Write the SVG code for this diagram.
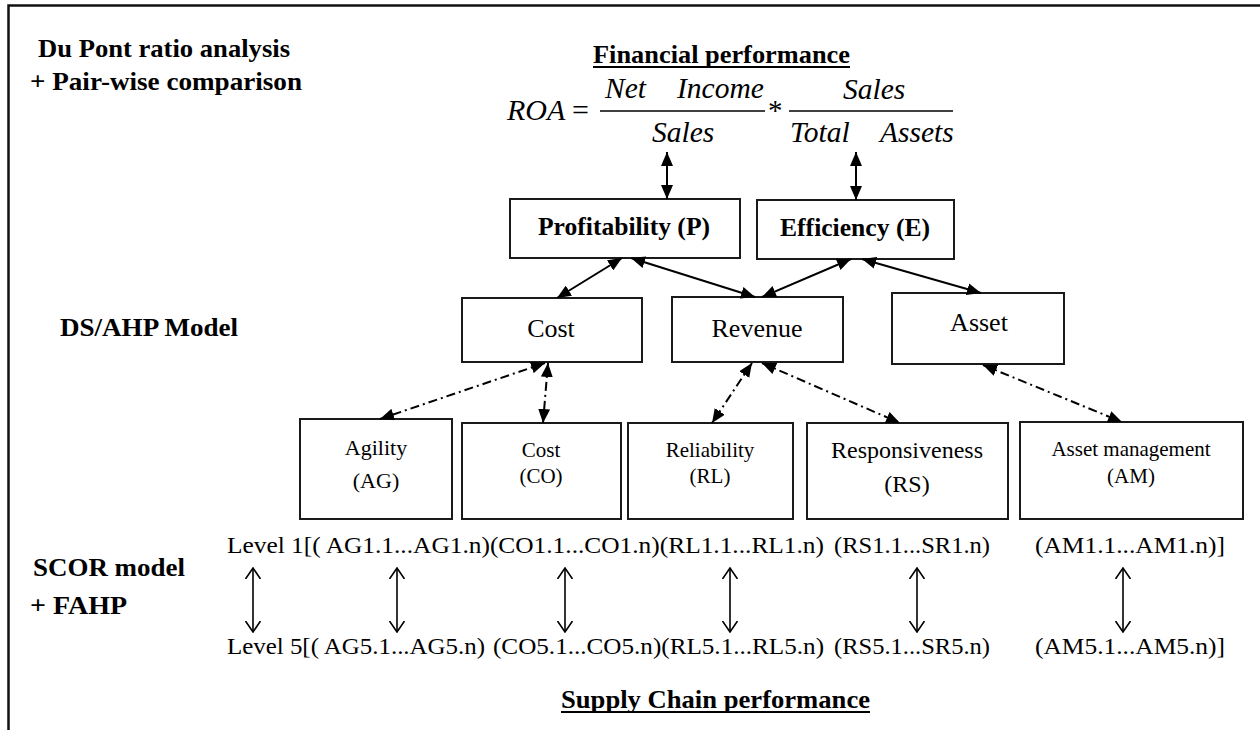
<svg xmlns="http://www.w3.org/2000/svg" width="1260" height="730" viewBox="0 0 1260 730">
  <style>
    .serif { font-family: "Liberation Serif", "Times New Roman", serif; fill: #000; }
    .bold { font-weight: bold; }
    .ital { font-style: italic; }
    .box { fill: #fff; stroke: #1a1a1a; stroke-width: 2; }
    .solid { fill: none; stroke: #000; stroke-width: 2; marker-start: url(#tri); marker-end: url(#tri); }
    .dashdot { fill: none; stroke: #000; stroke-width: 2; stroke-dasharray: 9 4 2 4; marker-start: url(#tri); marker-end: url(#tri); }
    .thin { fill: none; stroke: #000; stroke-width: 1.6; marker-start: url(#open); marker-end: url(#open); }
    .rule { stroke: #000; stroke-width: 1.5; }
    .ul { stroke: #000; stroke-width: 2; }
  </style>
  <defs>
    <marker id="tri" viewBox="0 0 14 12" refX="14" refY="6" markerWidth="14" markerHeight="12" markerUnits="userSpaceOnUse" orient="auto-start-reverse">
      <path d="M0,0 L14,6 L0,12 z" fill="#000"/>
    </marker>
    <marker id="open" viewBox="0 0 12 16" refX="11" refY="8" markerWidth="12" markerHeight="16" markerUnits="userSpaceOnUse" orient="auto-start-reverse">
      <path d="M0,0.5 L11,8 L0,15.5" fill="none" stroke="#000" stroke-width="1.6"/>
    </marker>
  </defs>

  <rect x="0" y="0" width="1260" height="730" fill="#fff"/>
  <!-- frame -->
  <path d="M8.5,730 V5.5 H1260" fill="none" stroke="#111" stroke-width="2.5"/>

  <!-- side headings -->
  <text class="serif bold" x="38" y="57" font-size="26" textLength="252" lengthAdjust="spacingAndGlyphs">Du Pont ratio analysis</text>
  <text class="serif bold" x="30" y="90" font-size="26" textLength="272" lengthAdjust="spacingAndGlyphs">+ Pair-wise comparison</text>
  <text class="serif bold" x="60" y="336" font-size="26" textLength="178" lengthAdjust="spacingAndGlyphs">DS/AHP Model</text>
  <text class="serif bold" x="33" y="576" font-size="26" textLength="152" lengthAdjust="spacingAndGlyphs">SCOR model</text>
  <text class="serif bold" x="30" y="614" font-size="26" textLength="97" lengthAdjust="spacingAndGlyphs">+ FAHP</text>

  <!-- financial performance + ROA formula -->
  <g id="financial">
    <text class="serif bold" x="593" y="63" font-size="26" textLength="257" lengthAdjust="spacingAndGlyphs">Financial performance</text>
    <line class="ul" x1="593" y1="67" x2="850" y2="67"/>
    <text class="serif ital" x="507" y="120" font-size="30">ROA</text>
    <text class="serif" x="572" y="120" font-size="30">=</text>
    <text class="serif ital" x="605" y="98" font-size="29.5">Net</text>
    <text class="serif ital" x="677" y="98" font-size="29.5">Income</text>
    <line class="rule" x1="600" y1="111" x2="765" y2="111"/>
    <text class="serif ital" x="652" y="142" font-size="29.5">Sales</text>
    <text class="serif" x="768" y="120" font-size="29">*</text>
    <text class="serif ital" x="843" y="99" font-size="29.5">Sales</text>
    <line class="rule" x1="789" y1="111" x2="953" y2="111"/>
    <text class="serif ital" x="790" y="142" font-size="29.5">Total</text>
    <text class="serif ital" x="880" y="142" font-size="29.5">Assets</text>
  </g>

  <!-- level 2: ratio components -->
  <g id="profitability">
    <rect class="box" x="510" y="199" width="230" height="59"/>
    <text class="serif bold" x="538" y="235" font-size="25" textLength="172" lengthAdjust="spacingAndGlyphs">Profitability  (P)</text>
  </g>
  <g id="efficiency">
    <rect class="box" x="757" y="200" width="197" height="59"/>
    <text class="serif bold" x="780" y="236" font-size="25" textLength="150" lengthAdjust="spacingAndGlyphs">Efficiency (E)</text>
  </g>

  <!-- level 3: DS/AHP criteria -->
  <g id="cost">
    <rect class="box" x="462" y="298" width="180" height="64"/>
    <text class="serif" x="551" y="337" font-size="26" text-anchor="middle">Cost</text>
  </g>
  <g id="revenue">
    <rect class="box" x="672" y="297" width="171" height="65"/>
    <text class="serif" x="757" y="337" font-size="26" text-anchor="middle">Revenue</text>
  </g>
  <g id="asset">
    <rect class="box" x="892" y="293" width="172" height="71"/>
    <text class="serif" x="979" y="331" font-size="26" text-anchor="middle">Asset</text>
  </g>

  <!-- level 4: SCOR attributes -->
  <g id="agility">
    <rect class="box" x="300" y="419" width="152" height="100"/>
    <text class="serif" x="376" y="455" font-size="22" text-anchor="middle">Agility</text>
    <text class="serif" x="376" y="488" font-size="22" text-anchor="middle">(AG)</text>
  </g>
  <g id="cost-co">
    <rect class="box" x="462" y="423" width="159" height="96"/>
    <text class="serif" x="541" y="457" font-size="21" text-anchor="middle">Cost</text>
    <text class="serif" x="541" y="483" font-size="21" text-anchor="middle">(CO)</text>
  </g>
  <g id="reliability">
    <rect class="box" x="628" y="423" width="165" height="96"/>
    <text class="serif" x="710" y="457" font-size="21" text-anchor="middle">Reliability</text>
    <text class="serif" x="710" y="483" font-size="21" text-anchor="middle">(RL)</text>
  </g>
  <g id="responsiveness">
    <rect class="box" x="807" y="423" width="201" height="96"/>
    <text class="serif" x="907" y="458" font-size="24" text-anchor="middle">Responsiveness</text>
    <text class="serif" x="907" y="492" font-size="24" text-anchor="middle">(RS)</text>
  </g>
  <g id="asset-management">
    <rect class="box" x="1020" y="422" width="223" height="97"/>
    <text class="serif" x="1131" y="456" font-size="21" text-anchor="middle">Asset management</text>
    <text class="serif" x="1131" y="483" font-size="21" text-anchor="middle">(AM)</text>
  </g>

  <!-- SCOR levels 1..5 -->
  <g id="levels">
    <text class="serif" x="227" y="553" font-size="24" textLength="597" lengthAdjust="spacingAndGlyphs">Level 1[( AG1.1...AG1.n)(CO1.1...CO1.n)(RL1.1...RL1.n)</text>
    <text class="serif" x="834" y="553" font-size="24" textLength="156" lengthAdjust="spacingAndGlyphs">(RS1.1...SR1.n)</text>
    <text class="serif" x="1035" y="553" font-size="24" textLength="190" lengthAdjust="spacingAndGlyphs">(AM1.1...AM1.n)]</text>
    <text class="serif" x="227" y="654" font-size="24" textLength="258" lengthAdjust="spacingAndGlyphs">Level 5[( AG5.1...AG5.n)</text>
    <text class="serif" x="493" y="654" font-size="24" textLength="331" lengthAdjust="spacingAndGlyphs">(CO5.1...CO5.n)(RL5.1...RL5.n)</text>
    <text class="serif" x="834" y="654" font-size="24" textLength="156" lengthAdjust="spacingAndGlyphs">(RS5.1...SR5.n)</text>
    <text class="serif" x="1035" y="654" font-size="24" textLength="190" lengthAdjust="spacingAndGlyphs">(AM5.1...AM5.n)]</text>
  </g>

  <g id="supply-chain">
    <text class="serif bold" x="561" y="708" font-size="26" textLength="309" lengthAdjust="spacingAndGlyphs">Supply Chain performance</text>
    <line class="ul" x1="561" y1="712" x2="870" y2="712"/>
  </g>

  <!-- connectors -->
  <g id="connectors">
    <line class="solid" x1="667" y1="152" x2="667" y2="199"/>
    <line class="solid" x1="856" y1="152" x2="856" y2="200"/>
    <line class="solid" x1="622" y1="258" x2="557" y2="298"/>
    <line class="solid" x1="631" y1="258" x2="755" y2="297"/>
    <line class="solid" x1="851" y1="259" x2="762" y2="297"/>
    <line class="solid" x1="862" y1="259" x2="981" y2="293"/>

    <line class="dashdot" x1="545" y1="363" x2="380" y2="419"/>
    <line class="dashdot" x1="548" y1="363" x2="543" y2="423"/>
    <line class="dashdot" x1="752" y1="363" x2="712" y2="423"/>
    <line class="dashdot" x1="762" y1="363" x2="900" y2="423"/>
    <line class="dashdot" x1="983" y1="365" x2="1122" y2="422"/>

    <line class="thin" x1="253" y1="568" x2="253" y2="632"/>
    <line class="thin" x1="397" y1="568" x2="397" y2="632"/>
    <line class="thin" x1="565" y1="568" x2="565" y2="632"/>
    <line class="thin" x1="730" y1="568" x2="730" y2="632"/>
    <line class="thin" x1="917" y1="568" x2="917" y2="632"/>
    <line class="thin" x1="1123" y1="568" x2="1123" y2="632"/>
  </g>
</svg>
